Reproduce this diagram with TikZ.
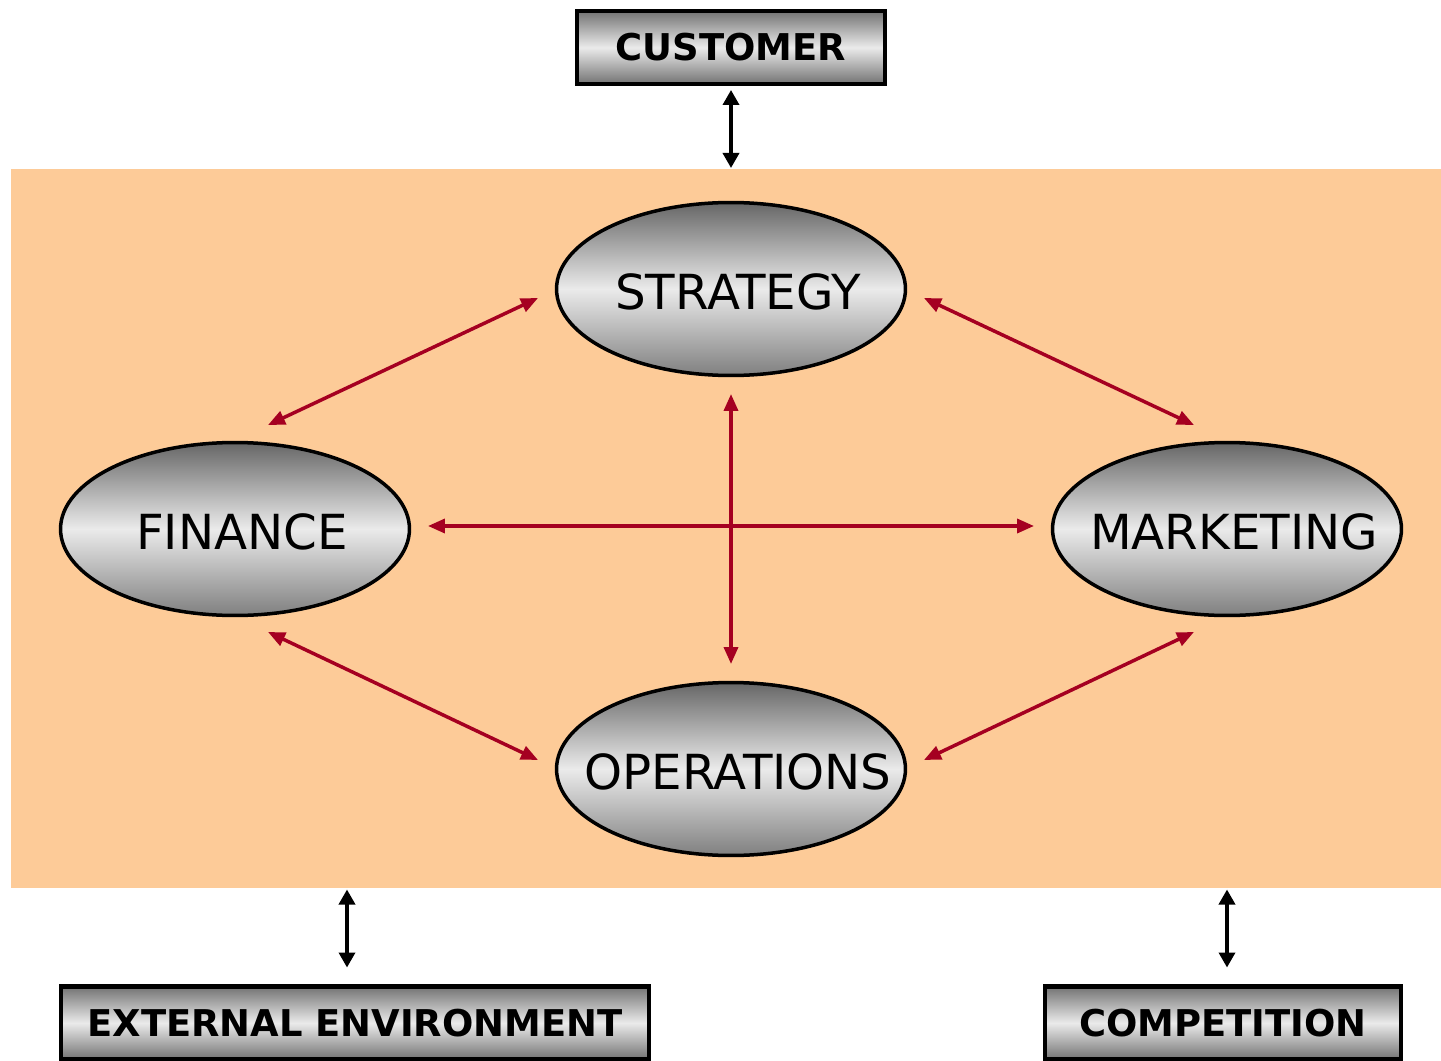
\documentclass[tikz,border=0pt]{standalone}
\usepackage{fontspec}
\setmainfont{DejaVu Sans}
\usetikzlibrary{arrows.meta,shapes.geometric}
\definecolor{panelorange}{RGB}{253,203,152}
\definecolor{linkred}{RGB}{165,0,33}

\begin{document}
\begin{tikzpicture}[x=0.02cm, y=-0.02cm,
  outbox/.style={rectangle, draw=black, line width=0.09cm,
    top color=black!55, bottom color=black!55, middle color=black!8,
    font=\fontsize{21}{25}\selectfont\bfseries,
    minimum height=1.46cm, inner sep=0pt, outer sep=0pt},
  area/.style={ellipse, draw=black, line width=0.07cm,
    top color=black!60, bottom color=black!50, middle color=black!8,
    minimum width=6.98cm, minimum height=3.46cm, inner sep=0pt, outer sep=0pt,
    label={[font=\fontsize{27.5}{32}\selectfont, xshift=0.14cm, yshift=-0.05cm]center:#1}},
  link/.style={draw=linkred, line width=0.07cm,
    {Triangle[length=0.34cm,width=0.28cm]}-{Triangle[length=0.34cm,width=0.28cm]}},
  tie/.style={draw=black, line width=0.07cm,
    {Triangle[length=0.3cm,width=0.32cm]}-{Triangle[length=0.3cm,width=0.32cm]}}]

\useasboundingbox (0,0) rectangle (1441,1061);

\node[fill=panelorange, minimum width=28.6cm, minimum height=14.38cm,
  inner sep=0pt, outer sep=0pt] (panel) at (726,528.5) {};

\node[outbox, minimum width=6.16cm] (customer) at (731,47.5) {CUSTOMER};
\node[outbox, minimum width=11.76cm] (extenv) at (355,1023) {EXTERNAL ENVIRONMENT};
\node[outbox, minimum width=7.12cm] (competition) at (1223,1023) {COMPETITION};

\node[area=STRATEGY] (strategy) at (731,289) {};
\node[area=FINANCE] (finance) at (235,529) {};
\node[area=MARKETING] (marketing) at (1227,529) {};
\node[area=OPERATIONS] (operations) at (731,769) {};

\draw[link] ([shift={(33,-17.5)}]finance.north) -- ([shift={(-18.5,9)}]strategy.west);
\draw[link] ([shift={(18.5,9)}]strategy.east) -- ([shift={(-33,-17.5)}]marketing.north);
\draw[link] ([shift={(33,16.5)}]finance.south) -- ([shift={(-18.5,-9)}]operations.west);
\draw[link] ([shift={(18.5,-9)}]operations.east) -- ([shift={(-33,16.5)}]marketing.south);
\draw[link] ([shift={(0,18.5)}]strategy.south) -- ([shift={(0,-18.5)}]operations.north);
\draw[link] ([shift={(18.5,-3)}]finance.east) -- ([shift={(-18.5,-3)}]marketing.west);

\draw[tie] ([shift={(0,6)}]customer.south) -- ([shift={(0,84)}]customer.south);
\draw[tie] ([shift={(-8,-97)}]extenv.north) -- ([shift={(-8,-19)}]extenv.north);
\draw[tie] ([shift={(4,-97)}]competition.north) -- ([shift={(4,-19)}]competition.north);
\end{tikzpicture}
\end{document}
